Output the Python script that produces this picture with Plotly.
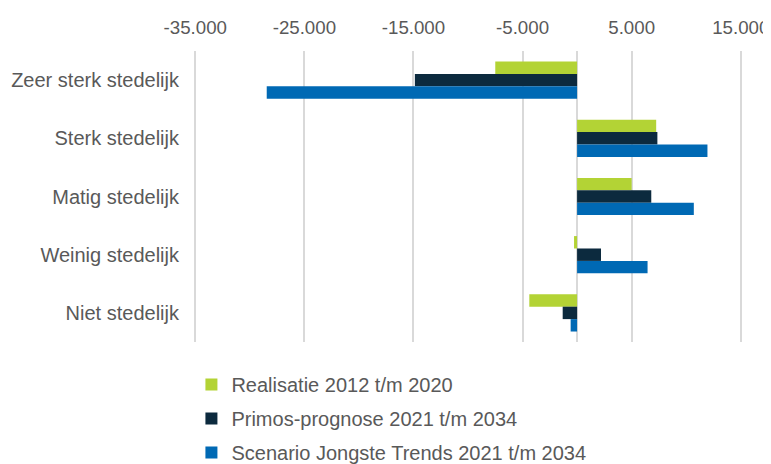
import plotly.graph_objects as go

categories = ["Zeer sterk stedelijk", "Sterk stedelijk", "Matig stedelijk", "Weinig stedelijk", "Niet stedelijk"]
realisatie = [-7500, 7250, 5000, -280, -4380]
primos = [-14870, 7360, 6800, 2190, -1320]
scenario = [-28450, 11950, 10700, 6460, -590]
series_names = ["Realisatie 2012 t/m 2020", "Primos-prognose 2021 t/m 2034", "Scenario Jongste Trends 2021 t/m 2034"]
tick_vals = [-35000, -25000, -15000, -5000, 5000, 15000]
tick_text = ["-35.000", "-25.000", "-15.000", "-5.000", "5.000", "15.000"]

colors = ["#B3D335", "#0C2A3E", "#0069B4"]
FONT = "Liberation Sans, Arial, sans-serif"
GRAY = "#595959"

fig = go.Figure()
for i, (name, vals) in enumerate(zip(series_names, [realisatie, primos, scenario])):
    fig.add_trace(go.Bar(
        y=categories, x=vals, name=name, orientation="h",
        marker=dict(color=colors[i], line=dict(width=0)),
        legendgroup=f"g{i}",
    ))

# page body has a default 8px margin, so the figure is sized to fit the 771x464 window
fig.update_layout(
    width=763, height=456,
    paper_bgcolor="white", plot_bgcolor="white",
    margin=dict(l=184.4, r=27, t=43, b=122, autoexpand=False),
    barmode="group", bargap=0.36, bargroupgap=0,
    font=dict(family=FONT, size=20, color=GRAY),
    showlegend=True,
    legend=dict(
        orientation="v", xref="container", yref="container",
        x=0.2404, xanchor="left", y=0.217, yanchor="top",
        font=dict(family=FONT, size=20, color=GRAY),
        tracegroupgap=5, traceorder="grouped",
    ),
)
fig.update_xaxes(
    side="top", range=[-35300, 15300], tickvals=tick_vals, ticktext=tick_text,
    showgrid=True, gridcolor="#D9D9D9", gridwidth=1.5,
    zeroline=True, zerolinecolor="#D9D9D9", zerolinewidth=1.5,
    showline=False, ticks="", automargin=False, ticklabeloverflow="allow",
    ticklabelstandoff=12,
    tickfont=dict(family=FONT, size=18.7, color=GRAY),
)
fig.update_yaxes(
    autorange="reversed", showgrid=False, zeroline=False, showline=False,
    ticks="", ticklabelstandoff=12, automargin=False,
    tickfont=dict(family=FONT, size=20, color=GRAY),
)

fig.write_html("out.html")
